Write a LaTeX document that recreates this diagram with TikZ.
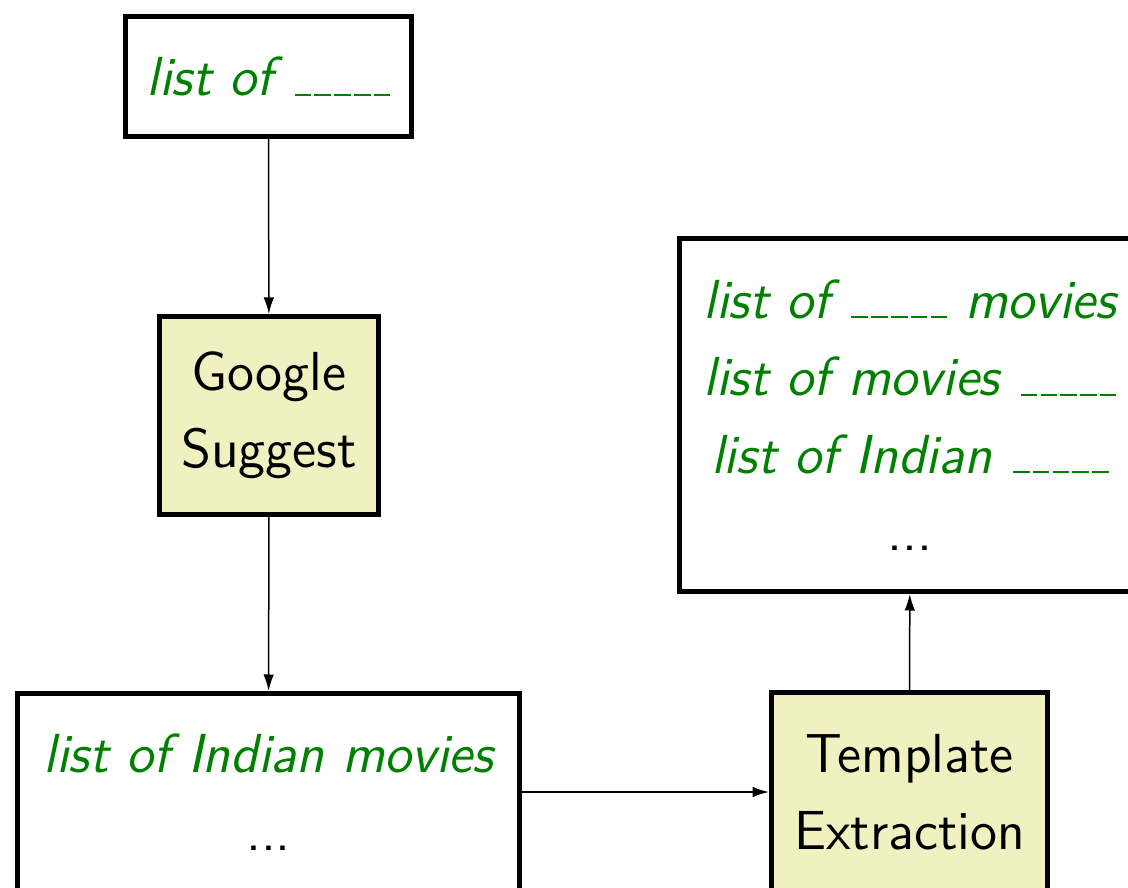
\documentclass[tikz,border=0pt]{standalone}
\usepackage{tikz}
\usetikzlibrary{arrows.meta}
\definecolor{querygreen}{HTML}{008000}
\definecolor{stagefill}{HTML}{F0F0C0}
\newcommand{\slotrule}{\leavevmode\kern.06em\vbox{\hrule width.3em}}
\newcommand{\blankslot}{\slotrule\slotrule\slotrule\slotrule\slotrule}
\newcommand{\query}[1]{\textcolor{querygreen}{\itshape #1}}

\begin{document}
\begin{tikzpicture}[x=0.2pt,y=-0.2pt,
		every node/.style={font=\sffamily\fontsize{11}{15.5}\selectfont, align=center},
		listbox/.style={draw, line width=1pt, inner sep=0pt},
		stagebox/.style={listbox, fill=stagefill},
		flow/.style={line width=0.3pt, -{Latex[length=3.3pt,width=2.1pt]}}]
		\useasboundingbox (0,0) rectangle (1128,888);
		\node[listbox, minimum width=57.2pt, minimum height=24pt] (seed) at (268.5,76.5) {\query{list of \blankslot}};
		\node[stagebox, minimum width=43.8pt, minimum height=39.6pt] (suggest) at (269,415.5) {Google\\Suggest};
		\node[listbox, minimum width=100.4pt, minimum height=39.4pt] (results) at (268.5,792) {\query{list of Indian movies}\\...};
		\node[stagebox, minimum width=55.2pt, minimum height=39.6pt] (extract) at (909.5,792) {Template\\Extraction};
		\node[listbox, minimum width=92.2pt, minimum height=70.6pt] (templates) at (910,415) {\query{list of \blankslot{} movies}\\\query{list of movies \blankslot}\\\query{list of Indian \blankslot}\\...};
		\draw[flow] (seed) -- (suggest);
		\draw[flow] (suggest) -- (results);
		\draw[flow] (results) -- (extract);
		\draw[flow] (extract) -- (templates);
	\end{tikzpicture}
\end{document}
